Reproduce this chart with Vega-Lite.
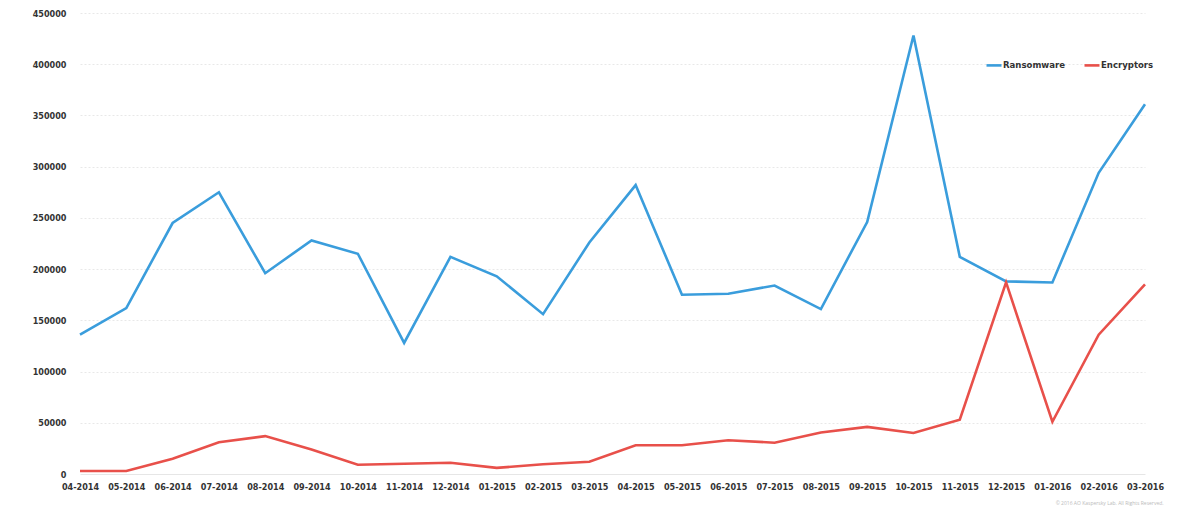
{
  "$schema": "https://vega.github.io/schema/vega-lite/v6.json",
  "width": 1065,
  "height": 461,
  "autosize": {"type": "none"},
  "padding": {"left": 80, "top": 13, "right": 41, "bottom": 41},
  "background": "white",
  "title": {
    "text": "© 2016 AO Kaspersky Lab. All Rights Reserved.",
    "orient": "bottom",
    "anchor": "end",
    "fontSize": 5,
    "fontWeight": "normal",
    "color": "#bbbbbb",
    "offset": 10,
    "font": "Open Sans"
  },
  "data": {
    "values": [
      {"month": "04-2014", "series": "Ransomware", "value": 136000},
      {"month": "05-2014", "series": "Ransomware", "value": 162000},
      {"month": "06-2014", "series": "Ransomware", "value": 245000},
      {"month": "07-2014", "series": "Ransomware", "value": 275000},
      {"month": "08-2014", "series": "Ransomware", "value": 196000},
      {"month": "09-2014", "series": "Ransomware", "value": 228000},
      {"month": "10-2014", "series": "Ransomware", "value": 215000},
      {"month": "11-2014", "series": "Ransomware", "value": 128000},
      {"month": "12-2014", "series": "Ransomware", "value": 212000},
      {"month": "01-2015", "series": "Ransomware", "value": 193000},
      {"month": "02-2015", "series": "Ransomware", "value": 156000},
      {"month": "03-2015", "series": "Ransomware", "value": 226000},
      {"month": "04-2015", "series": "Ransomware", "value": 282000},
      {"month": "05-2015", "series": "Ransomware", "value": 175000},
      {"month": "06-2015", "series": "Ransomware", "value": 176000},
      {"month": "07-2015", "series": "Ransomware", "value": 184000},
      {"month": "08-2015", "series": "Ransomware", "value": 161000},
      {"month": "09-2015", "series": "Ransomware", "value": 246000},
      {"month": "10-2015", "series": "Ransomware", "value": 428000},
      {"month": "11-2015", "series": "Ransomware", "value": 212000},
      {"month": "12-2015", "series": "Ransomware", "value": 188000},
      {"month": "01-2016", "series": "Ransomware", "value": 187000},
      {"month": "02-2016", "series": "Ransomware", "value": 294000},
      {"month": "03-2016", "series": "Ransomware", "value": 361000},
      {"month": "04-2014", "series": "Encryptors", "value": 3000},
      {"month": "05-2014", "series": "Encryptors", "value": 3000},
      {"month": "06-2014", "series": "Encryptors", "value": 15000},
      {"month": "07-2014", "series": "Encryptors", "value": 31000},
      {"month": "08-2014", "series": "Encryptors", "value": 37000},
      {"month": "09-2014", "series": "Encryptors", "value": 24000},
      {"month": "10-2014", "series": "Encryptors", "value": 9000},
      {"month": "11-2014", "series": "Encryptors", "value": 10000},
      {"month": "12-2014", "series": "Encryptors", "value": 11000},
      {"month": "01-2015", "series": "Encryptors", "value": 6000},
      {"month": "02-2015", "series": "Encryptors", "value": 9500},
      {"month": "03-2015", "series": "Encryptors", "value": 12000},
      {"month": "04-2015", "series": "Encryptors", "value": 28000},
      {"month": "05-2015", "series": "Encryptors", "value": 28000},
      {"month": "06-2015", "series": "Encryptors", "value": 33000},
      {"month": "07-2015", "series": "Encryptors", "value": 30500},
      {"month": "08-2015", "series": "Encryptors", "value": 40500},
      {"month": "09-2015", "series": "Encryptors", "value": 46000},
      {"month": "10-2015", "series": "Encryptors", "value": 40000},
      {"month": "11-2015", "series": "Encryptors", "value": 53000},
      {"month": "12-2015", "series": "Encryptors", "value": 187000},
      {"month": "01-2016", "series": "Encryptors", "value": 51000},
      {"month": "02-2016", "series": "Encryptors", "value": 136000},
      {"month": "03-2016", "series": "Encryptors", "value": 185000}
    ]
  },
  "mark": {"type": "line", "strokeWidth": 2.6},
  "encoding": {
    "x": {
      "field": "month",
      "type": "ordinal",
      "sort": null,
      "scale": {"type": "point", "padding": 0},
      "axis": {
        "title": null,
        "labelAngle": 0,
        "ticks": false,
        "domain": false,
        "grid": false,
        "labelPadding": 8,
        "labelFont": "DejaVu Sans Condensed, Roboto Condensed, Roboto, sans-serif",
        "labelFontWeight": "bold",
        "labelFontSize": 9,
        "labelColor": "#333333"
      }
    },
    "y": {
      "field": "value",
      "type": "quantitative",
      "scale": {"domain": [0, 450000], "nice": false},
      "axis": {
        "title": null,
        "values": [0, 50000, 100000, 150000, 200000, 250000, 300000, 350000, 400000, 450000],
        "format": "d",
        "ticks": false,
        "domain": false,
        "labelPadding": 14,
        "labelFont": "DejaVu Sans Condensed, Roboto Condensed, Roboto, sans-serif",
        "labelFontWeight": "bold",
        "labelFontSize": 9,
        "labelColor": "#333333",
        "gridColor": {"condition": {"test": "datum.value === 0", "value": "#e6e6e6"}, "value": "#e8e8e8"},
        "gridDash": {"condition": {"test": "datum.value === 0", "value": []}, "value": [2, 2]},
        "gridWidth": 1
      }
    },
    "color": {
      "field": "series",
      "type": "nominal",
      "sort": ["Ransomware", "Encryptors"],
      "scale": {"domain": ["Ransomware", "Encryptors"], "range": ["#3a9ddc", "#e8504a"]},
      "legend": {
        "title": null,
        "orient": "none",
        "legendX": 905,
        "legendY": 43,
        "direction": "horizontal",
        "symbolType": "stroke",
        "symbolSize": 225,
        "symbolStrokeWidth": 2.6,
        "labelFont": "DejaVu Sans Condensed, Roboto Condensed, Roboto, sans-serif",
        "labelFontWeight": "bold",
        "labelFontSize": 9.5,
        "labelColor": "#333333",
        "labelOffset": 0,
        "columnPadding": 14
      }
    }
  },
  "config": {"view": {"stroke": null}}
}
